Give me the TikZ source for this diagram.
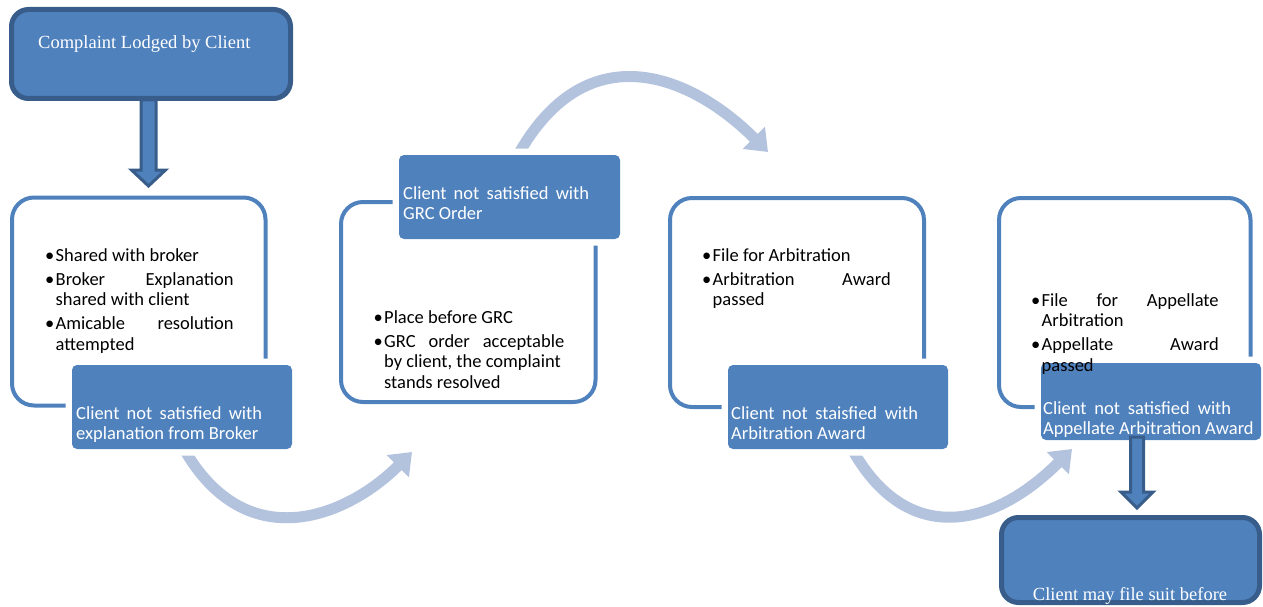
\documentclass[tikz,border=0pt]{standalone}
\usepackage{fontspec}
\setmainfont{Liberation Serif}
\newfontfamily\calfont{Carlito}
\usetikzlibrary{arrows.meta}
\definecolor{mblue}{HTML}{4F81BD}
\definecolor{dblue}{HTML}{385D8A}
\definecolor{lblue}{HTML}{B3C3DE}
\newcommand\bul{\makebox[10.5pt][l]{\textbullet}}
\newcommand\ind{\hspace*{10.5pt}}
\newcommand\jl[2]{{\spaceskip=0pt\xspaceskip=0pt\makebox[#1][s]{#2}}}
\begin{document}
\begin{tikzpicture}[x=1pt,y=-1pt,
  outlinebox/.style={draw=mblue, line width=4pt, rounded corners=22pt, anchor=north west, inner sep=0pt, outer sep=0pt},
  bluebox/.style={fill=mblue, rounded corners=5pt, anchor=north west, inner sep=0pt, outer sep=0pt,
     preaction={draw=white, line width=13pt}},
  endbox/.style={fill=mblue, draw=dblue, line width=5pt, rounded corners=17pt, anchor=north west, inner sep=0pt, outer sep=0pt},
  curvearrow/.style={draw=lblue, line width=11pt, -{Triangle[width=30pt 0 0,length=20pt 0 0]}},
  blockarrow/.style={fill=mblue, draw=dblue, line width=3pt, line join=miter},
  bultxt/.style={inner sep=0pt, anchor=base west, text width=240pt, align=flush left,
     font=\calfont\fontsize{18.5}{20.5}\selectfont},
  whitetxt/.style={bultxt, text=white},
  serif/.style={inner sep=0pt, text=white, font=\fontsize{18.5}{21}\selectfont}
]
\useasboundingbox (0,0) rectangle (1263,607);

% outline boxes
\node[outlinebox, minimum width=253.5pt, minimum height=208pt] (o1) at (12,197.5) {};
\node[outlinebox, minimum width=254.5pt, minimum height=200pt] (o2) at (341,202) {};
\node[outlinebox, minimum width=254pt, minimum height=209pt] (o3) at (670,198) {};
\node[outlinebox, minimum width=251.5pt, minimum height=209pt] (o4) at (999,198) {};

% arrow end coordinates
\coordinate (b1s) at (184,449);
\coordinate (b2n) at (518,155);
\coordinate (b3s) at (852,449);
\coordinate (ca1) at (412,452);
\coordinate (ca2) at (768,152);
\coordinate (ca3) at (1072,449);

% curved arrows
\draw[curvearrow] (b1s) .. controls (246.5,558) and (347,517) .. (ca1);
\draw[curvearrow] (b2n) .. controls (587,32) and (691,75) .. (ca2);
\draw[curvearrow] (b3s) .. controls (907,547.5) and (993,528) .. (ca3);

% blue boxes
\node[bluebox, minimum width=220pt, minimum height=84pt] (bl1) at (72,365) {};
\node[bluebox, minimum width=221pt, minimum height=84pt] (bl2) at (399,155) {};
\node[bluebox, minimum width=220pt, minimum height=84pt] (bl3) at (728,365) {};
\node[bluebox, minimum width=220pt, minimum height=77pt] (bl4) at (1041,363) {};

% top arrow
\coordinate (a1) at (148.5,100);
\begin{scope}[shift={(a1)}]
\draw[blockarrow] (-7.5,0) -- (-7.5,70) -- (-17,70) -- (0,86) -- (17,70) -- (7.5,70) -- (7.5,0) -- cycle;
\end{scope}
\node[endbox, minimum width=279pt, minimum height=89pt] (top) at (11.5,9.5) {};

% bottom arrow
\begin{scope}[shift={([xshift=-14pt,yshift=3pt]bl4.south)}]
\draw[blockarrow] (-6.5,0) -- (-6.5,55) -- (-16,55) -- (0,71) -- (16,55) -- (6.5,55) -- (6.5,0) -- cycle;
\end{scope}
\node[endbox, minimum width=258pt, minimum height=85pt] (bot) at (1001.5,517.5) {};

% texts
\node[serif, anchor=base west] (ttop) at (38,49) {Complaint Lodged by Client};
\node[serif, anchor=base] (tbot) at (1130,600) {Client may file suit before};

\node[bultxt] (t1) at (45,261) {\bul Shared with broker\\[3.5pt]
\bul\jl{178pt}{Broker Explanation}\\
\ind shared with client\\[3.5pt]
\bul\jl{178pt}{Amicable resolution}\\
\ind attempted};

\node[bultxt] (t2) at (373.5,323) {\bul Place before GRC\\[3.5pt]
\bul\jl{180pt}{GRC order acceptable}\\
\ind by client, the complaint\\
\ind stands resolved};

\node[bultxt] (t3) at (702,261) {\bul File for Arbitration\\[3.5pt]
\bul\jl{178pt}{Arbitration Award}\\
\ind passed};

\node[bultxt] (t4) at (1031,306) {\bul\jl{177pt}{File for Appellate}\\
\ind Arbitration\\[3.5pt]
\bul\jl{177pt}{Appellate Award}\\
\ind passed};

\node[whitetxt] (w1) at (76,419) {\jl{186pt}{Client not satisfied with}\\explanation from Broker};
\node[whitetxt] (w2) at (403,199) {\jl{186pt}{Client not satisfied with}\\GRC Order};
\node[whitetxt] (w3) at (731,419) {\jl{187pt}{Client not staisfied with}\\Arbitration Award};
\node[whitetxt] (w4) at (1043,414) {\jl{188pt}{Client not satisfied with}\\Appellate Arbitration Award};
\end{tikzpicture}
\end{document}
